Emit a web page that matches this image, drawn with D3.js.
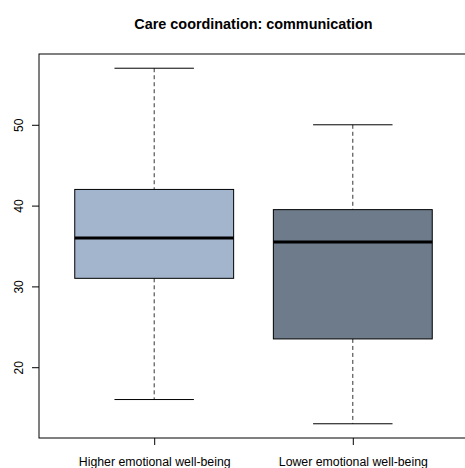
<!DOCTYPE html>
<html>
<head>
<meta charset="utf-8">
<script src="https://cdn.jsdelivr.net/npm/d3@7"></script>
<style>
  html, body { margin: 0; padding: 0; background: #fff; }
  svg { display: block; font-family: "Liberation Sans", Arial, Helvetica, sans-serif; }
</style>
</head>
<body>
<svg id="chart" width="465" height="468"></svg>
<script>
// Box-plot summaries per group
const groups = ["Higher emotional well-being", "Lower emotional well-being"];
const whiskerLow = [16, 13];
const q1 = [31, 23.5];
const medians = [36, 35.5];
const q3 = [42, 39.5];
const whiskerHigh = [57, 50];
const fills = ["#A2B5CD", "#6E7B8B"];
const yTicks = [20, 30, 40, 50];
const title = "Care coordination: communication";

const svg = d3.select("#chart");
const plotLeft = 39, plotRight = 468, plotTop = 54, plotBottom = 438;

// Extended ranges with a 4% padding on the value axis
const yMin = d3.min(whiskerLow), yMax = d3.max(whiskerHigh);
const pad = (yMax - yMin) * 0.04;
const y = d3.scaleLinear().domain([yMin - pad, yMax + pad]).range([plotBottom, plotTop]);
const x = d3.scaleLinear().domain([0.5 - 0.08, groups.length + 0.5 + 0.08]).range([plotLeft, plotRight]);
const boxW = x(0.8) - x(0);
const capW = boxW / 2;

groups.forEach((g, i) => {
  const cx = x(i + 1);
  const gEl = svg.append("g");
  // dashed whiskers
  gEl.append("line").attr("x1", cx).attr("x2", cx)
    .attr("y1", y(whiskerHigh[i])).attr("y2", y(q3[i]))
    .attr("stroke", "#333").attr("stroke-width", 1).attr("stroke-dasharray", "4,3");
  gEl.append("line").attr("x1", cx).attr("x2", cx)
    .attr("y1", y(q1[i])).attr("y2", y(whiskerLow[i]))
    .attr("stroke", "#333").attr("stroke-width", 1).attr("stroke-dasharray", "4,3");
  // whisker caps
  [whiskerHigh[i], whiskerLow[i]].forEach(v => {
    gEl.append("line").attr("x1", cx - capW / 2).attr("x2", cx + capW / 2)
      .attr("y1", y(v)).attr("y2", y(v))
      .attr("stroke", "#000").attr("stroke-width", 1);
  });
  // box
  gEl.append("rect")
    .attr("x", cx - boxW / 2).attr("width", boxW)
    .attr("y", y(q3[i])).attr("height", y(q1[i]) - y(q3[i]))
    .attr("fill", fills[i]).attr("stroke", "#000").attr("stroke-width", 1);
  // median
  gEl.append("line").attr("x1", cx - boxW / 2).attr("x2", cx + boxW / 2)
    .attr("y1", y(medians[i])).attr("y2", y(medians[i]))
    .attr("stroke", "#000").attr("stroke-width", 3);
});

// Plot frame
svg.append("rect").attr("x", plotLeft).attr("y", plotTop)
  .attr("width", plotRight - plotLeft).attr("height", plotBottom - plotTop)
  .attr("fill", "none").attr("stroke", "#000").attr("stroke-width", 1);

// Y axis
const yAxis = svg.append("g").attr("transform", `translate(${plotLeft},0)`)
  .call(d3.axisLeft(y).tickValues(yTicks).tickSize(7).tickFormat(d3.format("d")));
yAxis.select(".domain").remove();
yAxis.selectAll("line").attr("stroke", "#000");
yAxis.selectAll("text")
  .attr("x", null).attr("dy", null)
  .attr("transform", "translate(-16,0) rotate(-90)")
  .attr("text-anchor", "middle")
  .attr("fill", "#000")
  .style("font-size", "12px")
  .style("font-family", "'Liberation Sans', Arial, sans-serif");

// X axis
const xAxis = svg.append("g").attr("transform", `translate(0,${plotBottom})`)
  .call(d3.axisBottom(x).tickValues(groups.map((_, i) => i + 1)).tickSize(7)
    .tickFormat((d) => groups[d - 1]));
xAxis.select(".domain").remove();
xAxis.selectAll("line").attr("stroke", "#000");
xAxis.selectAll("text")
  .attr("y", 28).attr("dy", null)
  .attr("fill", "#000")
  .style("font-size", "12.3px")
  .style("font-family", "'Liberation Sans', Arial, sans-serif");

// Title
svg.append("text")
  .attr("x", (plotLeft + plotRight) / 2).attr("y", 29)
  .attr("text-anchor", "middle")
  .style("font-size", "14.4px").style("font-weight", "bold")
  .text(title);
</script>
</body>
</html>
